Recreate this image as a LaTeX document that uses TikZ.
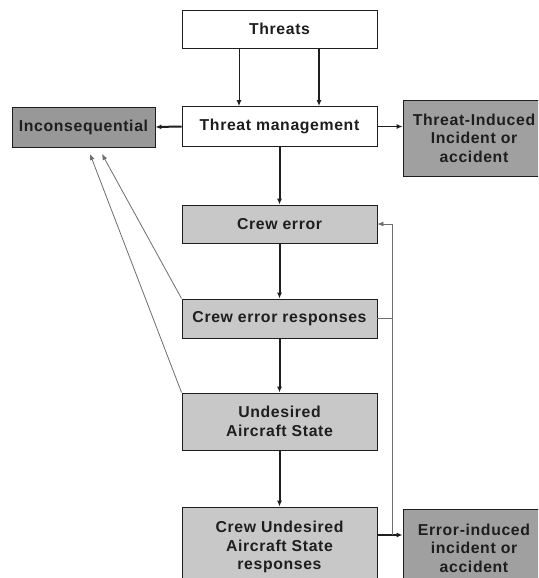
\documentclass[tikz,border=0pt]{standalone}
\usepackage{fontspec}
\setmainfont{Liberation Sans}[LetterSpace=4]
\usetikzlibrary{arrows.meta,calc}
\definecolor{darkbox}{RGB}{152,152,152}
\definecolor{midbox}{RGB}{160,160,160}
\definecolor{lightbox}{RGB}{200,200,200}
\definecolor{ink}{RGB}{30,30,30}
\definecolor{thinline}{RGB}{110,110,110}
\tikzset{
  box/.style={draw=ink, line width=0.9pt, minimum width=195pt, inner sep=2pt,
    align=center, font=\fontsize{15.8}{18.5}\selectfont\bfseries, text=ink},
  whitebox/.style={box, fill=white},
  lightboxst/.style={box, fill=lightbox},
  darkboxst/.style={box, fill=darkbox},
  thickarrow/.style={draw=ink, line width=2pt, -{Latex[length=6pt,width=5pt]}},
  medarrow/.style={draw=ink, line width=1pt, -{Latex[length=6pt,width=5pt]}},
  thinarrow/.style={draw=thinline, line width=0.8pt, -{Latex[length=6pt,width=5pt]}},
  thinline/.style={draw=thinline, line width=0.8pt},
}
\begin{document}
\begin{tikzpicture}[x=1pt,y=-1pt]
\useasboundingbox (0,0) rectangle (538,578);
\clip (0,0) rectangle (538,578);
\fill[white] (0,0) rectangle (538,578);

\node[whitebox, minimum height=38pt] (threats) at (279.5,29) {Threats};
\node[whitebox, minimum height=40pt] (tm) at (279.5,126.5) {Threat management};
\node[darkboxst, minimum width=143pt, minimum height=40pt] (incon) at (83.5,127) {Inconsequential};
\node[box, fill=midbox, minimum width=142pt, minimum height=76pt] (tii) at (474,138) {Threat-Induced\\Incident or\\accident};
\node[lightboxst, minimum height=38pt] (ce) at (279.5,224) {Crew error};
\node[lightboxst, minimum height=39pt] (cer) at (279.5,318.5) {Crew error responses};
\node[lightboxst, minimum height=57pt] (uas) at (279.5,421.5) {Undesired\\Aircraft State};
\node[lightboxst, minimum height=80pt] (cuas) at (279.5,547) {Crew Undesired\\Aircraft State\\responses};
\node[box, fill=midbox, minimum width=142pt, minimum height=78pt] (eii) at (474,548) {Error-induced\\incident or\\accident};

\coordinate (c1) at (239,0);
\coordinate (c2) at (319,0);
\coordinate (a1) at (102,154);
\coordinate (a2) at (90,154);
\coordinate (fbx) at (392,0);
\coordinate (j) at (392,535);

% Threats to threat management
\draw[medarrow] (threats.south -| c1) -- (tm.north -| c1);
\draw[thickarrow] (threats.south -| c2) -- (tm.north -| c2);

% threat management outcomes
\draw[thickarrow] (tm.west) -- (incon.east);
\draw[medarrow] (tm.east) -- (tii.west |- tm.east);
\draw[thickarrow] (tm.south) -- (ce.north);

% main chain
\draw[thickarrow] (ce.south) -- (cer.north);
\draw[thickarrow] (cer.south) -- (uas.north);
\draw[thickarrow] (uas.south) -- (cuas.north);
\draw[thickarrow] (cuas.east |- j) -- (eii.west |- j);

% back to inconsequential
\draw[thinarrow] (cer.north west) -- (a1);
\draw[thinarrow] (uas.north west) -- (a2);

% feedback loop
\draw[thinarrow] (cer.east) -- (cer.east -| fbx) |- (ce.east);
\draw[thinline] (cer.east -| fbx) -- (j);
\end{tikzpicture}
\end{document}
